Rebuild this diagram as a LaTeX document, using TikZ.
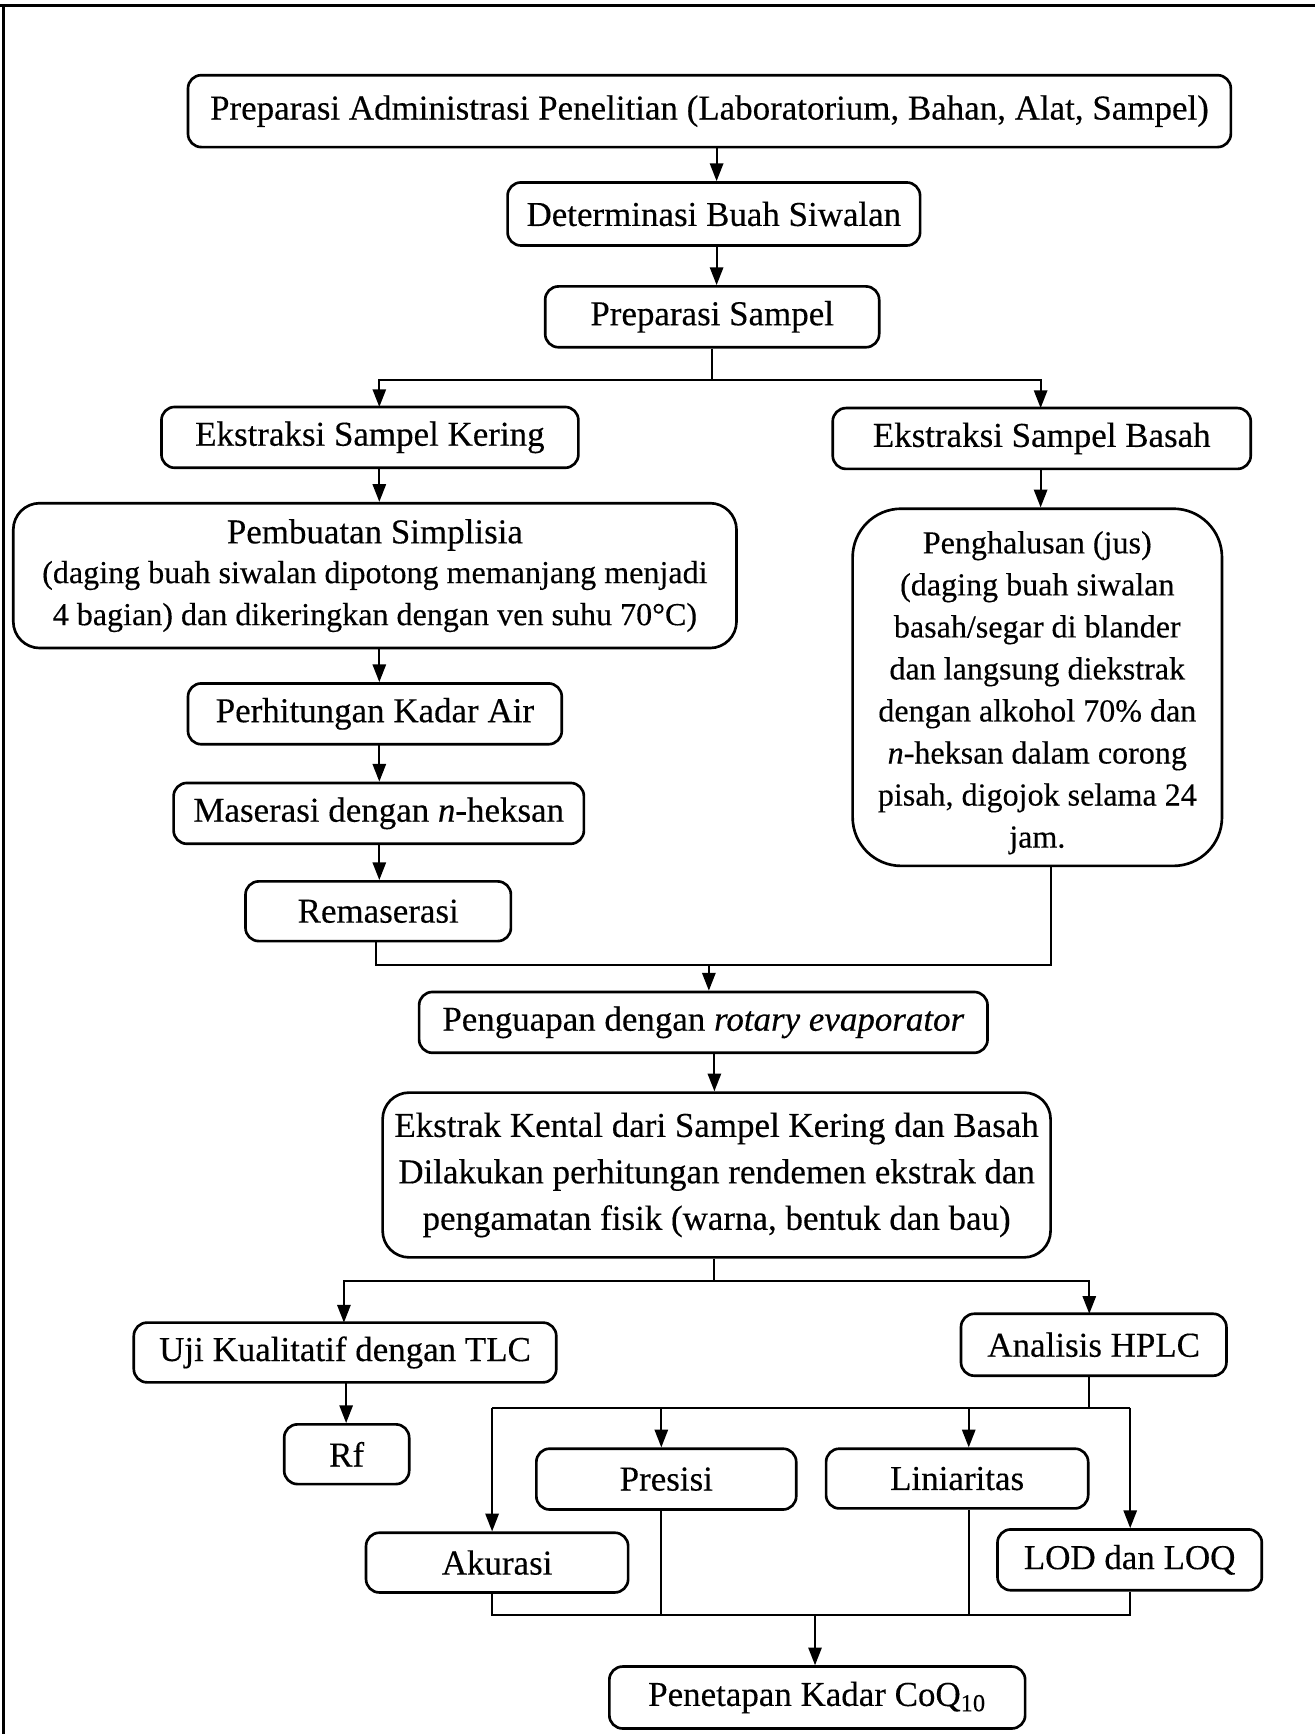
\documentclass[tikz,border=0pt]{standalone}
\usepackage{fontspec}
\setmainfont{Liberation Serif}[FakeBold=0.3]
\usetikzlibrary{arrows.meta}
\tikzset{
  box/.style={draw, line width=1.2pt, rounded corners=6pt, inner sep=0pt, align=center, font=\fontsize{15.8}{19}\selectfont},
  arr/.style={line width=0.9pt, -{Triangle[length=8pt,width=6pt]}},
  ln/.style={line width=0.9pt},
}
\newcommand\bx[7][]{\node[box,#1,minimum width={(#5-#3)*0.5pt},minimum height={(#6-#4)*0.5pt}] (#2) at ({(#3+#5)/2},{(#4+#6)/2}) {#7};}
\begin{document}
\begin{tikzpicture}[x=0.5pt,y=-0.5pt]
\useasboundingbox (0,0) rectangle (1189,1568);
% page frame
\draw[line width=1.3pt] (0,5) -- (1189,5);
\draw[line width=1.1pt] (3,5) -- (3,1568);
% boxes
\bx{pa}{170}{68}{1113}{133}{Preparasi Administrasi Penelitian (Laboratorium, Bahan, Alat, Sampel)}
\bx{db}{459}{165}{832}{222}{Determinasi Buah Siwalan}
\bx{ps}{493}{259}{795}{314}{Preparasi Sampel}
\bx{ek}{146}{368}{523}{423}{Ekstraksi Sampel Kering}
\bx{eb}{753}{369}{1131}{424}{Ekstraksi Sampel Basah}
\bx[rounded corners=12pt]{sp}{12}{455}{666}{586}{Pembuatan Simplisia\\[-1pt]{\fontsize{14.5}{17.5}\selectfont(daging buah siwalan dipotong memanjang menjadi}\\{\fontsize{14.5}{17.5}\selectfont4 bagian) dan dikeringkan dengan ven suhu 70\textdegree C)}}
\bx{ka}{170}{618}{508}{673}{Perhitungan Kadar Air}
\bx{ms}{157}{708}{528}{763}{Maserasi dengan \textit{n}-heksan}
\bx{rm}{222}{797}{462}{851}{Remaserasi}
\bx[rounded corners=22pt,font=\fontsize{14.5}{19}\selectfont]{ph}{771}{460}{1105}{783}{\rule{0pt}{15pt}Penghalusan (jus)\\(daging buah siwalan\\basah/segar di blander\\dan langsung diekstrak\\dengan alkohol 70\% dan\\\textit{n}-heksan dalam corong\\pisah, digojok selama 24\\jam.}
\bx{pg}{379}{897}{893}{952}{Penguapan dengan \textit{rotary evaporator}}
\bx[rounded corners=12pt]{kk}{346}{988}{950}{1137}{Ekstrak Kental dari Sampel Kering dan Basah\\[2pt]Dilakukan perhitungan rendemen ekstrak dan\\[2pt]pengamatan fisik (warna, bentuk dan bau)}
\bx{uk}{121}{1196}{503}{1250}{Uji Kualitatif dengan TLC}
\bx{hp}{869}{1188}{1109}{1244}{Analisis HPLC}
\bx{rf}{257}{1288}{370}{1342}{Rf}
\bx{pr}{485}{1310}{720}{1365}{Presisi}
\bx{li}{747}{1310}{984}{1364}{Liniaritas}
\bx{ak}{331}{1386}{568}{1440}{Akurasi}
\bx{lo}{902}{1383}{1141}{1438}{LOD dan LOQ}
\bx{pk}{551}{1507}{927}{1563}{Penetapan Kadar CoQ\textsubscript{10}}
% connectors
\coordinate (a1) at (648,133);
\draw[arr] (a1) -- (a1 |- db.north);
\coordinate (a2) at (648,222);
\draw[arr] (a2) -- (a2 |- ps.north);
\coordinate (j1) at (644,344);
\draw[ln] (ps.south -| j1) -- (j1);
\draw[arr] (j1) -| (343,368);
\draw[arr] (j1) -| (941,369);
\coordinate (a3) at (343,423);
\draw[arr] (a3) -- (a3 |- sp.north);
\coordinate (a4) at (941,424);
\draw[arr] (a4) -- (a4 |- ph.north);
\coordinate (a5) at (343,586);
\draw[arr] (a5) -- (a5 |- ka.north);
\coordinate (a6) at (343,673);
\draw[arr] (a6) -- (a6 |- ms.north);
\coordinate (a7) at (343,763);
\draw[arr] (a7) -- (a7 |- rm.north);
\coordinate (m2l) at (340,873);
\coordinate (m2r) at (950,873);
\draw[ln] (rm.south -| m2l) -- (m2l) -- (m2r) -- (m2r |- ph.south);
\coordinate (a8) at (641,873);
\draw[arr] (a8) -- (a8 |- pg.north);
\coordinate (a9) at (646,952);
\draw[arr] (a9) -- (a9 |- kk.north);
\coordinate (j3) at (646,1158);
\draw[ln] (kk.south -| j3) -- (j3);
\draw[arr] (j3) -| (311,1196);
\draw[arr] (j3) -| (985,1188);
\coordinate (a10) at (313,1250);
\draw[arr] (a10) -- (a10 |- rf.north);
\coordinate (b0) at (985,1273);
\coordinate (b1) at (445,1273);
\coordinate (b2) at (598,1273);
\coordinate (b3) at (876,1273);
\coordinate (b4) at (1022,1273);
\draw[ln] (hp.south -| b0) -- (b0);
\draw[ln] (b1) -- (b4);
\draw[arr] (b1) -- (b1 |- ak.north);
\draw[arr] (b2) -- (b2 |- pr.north);
\draw[arr] (b3) -- (b3 |- li.north);
\draw[arr] (b4) -- (b4 |- lo.north);
\coordinate (c1) at (445,1460);
\coordinate (c2) at (598,1460);
\coordinate (c3) at (876,1460);
\coordinate (c4) at (1022,1460);
\coordinate (c0) at (737,1460);
\draw[ln] (ak.south -| c1) -- (c1) -- (c4) -- (lo.south -| c4);
\draw[ln] (pr.south -| c2) -- (c2);
\draw[ln] (li.south -| c3) -- (c3);
\draw[arr] (c0) -- (c0 |- pk.north);
\end{tikzpicture}
\end{document}
